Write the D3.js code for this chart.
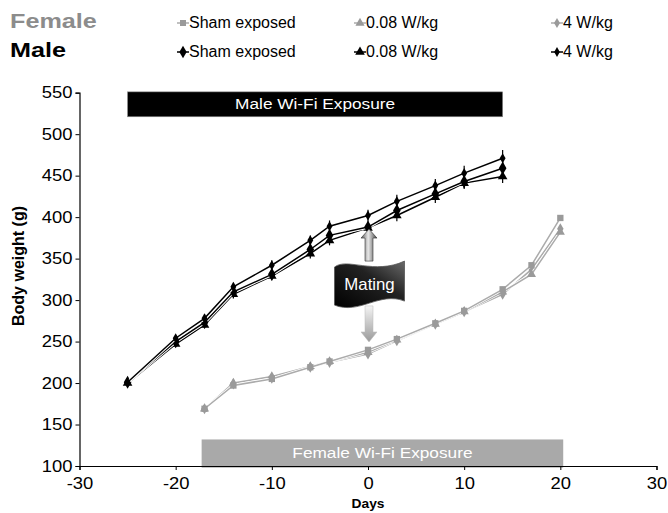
<!DOCTYPE html>
<html><head><meta charset="utf-8">
<script src="https://cdn.jsdelivr.net/npm/d3@7"></script>
<style>body{margin:0;background:#fff}svg{display:block;font-family:"Liberation Sans",Arial,Helvetica,sans-serif}</style>
</head><body><svg id="c" width="668" height="513"></svg>
<script>
// ---- data ----
const xTicks = [-30, -20, -10, 0, 10, 20, 30];
const yTicks = [100, 150, 200, 250, 300, 350, 400, 450, 500, 550];
const maleDays = [-25, -20, -17, -14, -10, -6, -4, 0, 3, 7, 10, 14];
const maleSham = [201, 250, 273, 310, 331, 361, 378, 388, 408, 428, 443, 459];
const male008  = [200, 247, 270, 307, 329, 356, 372, 387, 402, 424, 441, 449];
const male4    = [201, 254, 278, 316, 342, 372, 389, 402, 419, 438, 453, 471];
const maleShamErr = [3, 4, 4, 5, 5, 6, 6, 7, 7, 7, 8, 8];
const male008Err  = [3, 4, 4, 5, 5, 6, 6, 6, 7, 7, 7, 8];
const male4Err    = [3, 4, 5, 5, 6, 6, 7, 7, 8, 8, 9, 10];
const femaleDays = [-17, -14, -10, -6, -4, 0, 3, 7, 10, 14, 17, 20];
const femaleSham = [169, 197, 205, 219, 226, 240, 253, 272, 287, 313, 342, 399];
const female008  = [169, 200, 208, 220, 226, 237, 252, 271, 286, 310, 331, 382];
const female4    = [169, 199, 206, 219, 225, 235, 251, 271, 286, 307, 337, 386];
const groupLabels = ["Female", "Male"];
const seriesLabels = ["Sham exposed", "0.08 W/kg", "4 W/kg"];
const maleExposure = [-25, 14];
const femaleExposure = [-17.3, 20.3];
const maleExposureLabel = "Male Wi-Fi Exposure";
const femaleExposureLabel = "Female Wi-Fi Exposure";
const matingLabel = "Mating";
const xTitle = "Days";
const yTitle = "Body weight (g)";

// ---- setup ----
const svg = d3.select('#c');
const x = d3.scaleLinear().domain([-30, 30]).range([79.5, 656.5]);
const y = d3.scaleLinear().domain([100, 550]).range([466, 92.7]);
const SX = 1.15;
const FGRAY = '#9a9a9a', FLINE = '#ababab';

function stext(str, px, py, o) {
  return svg.append('text')
    .attr('transform', `translate(${px},${py}) scale(${o.sx || SX},1)`)
    .attr('text-anchor', o.anchor || 'start')
    .style('font-size', o.size + 'px')
    .style('font-weight', o.weight || 'normal')
    .attr('fill', o.fill || '#000')
    .text(str);
}

const defs = svg.append('defs');
const g1 = defs.append('linearGradient').attr('id', 'flagG').attr('x1', 0).attr('y1', 1).attr('x2', 1).attr('y2', 0);
g1.append('stop').attr('offset', '0%').attr('stop-color', '#000');
g1.append('stop').attr('offset', '60%').attr('stop-color', '#222');
g1.append('stop').attr('offset', '100%').attr('stop-color', '#6a6a6a');
const g2 = defs.append('linearGradient').attr('id', 'upG').attr('x1', 0).attr('y1', 0).attr('x2', 1).attr('y2', 0);
g2.append('stop').attr('offset', '0%').attr('stop-color', '#555');
g2.append('stop').attr('offset', '45%').attr('stop-color', '#e8e8e8');
g2.append('stop').attr('offset', '100%').attr('stop-color', '#444');
const g3 = defs.append('linearGradient').attr('id', 'downG').attr('x1', 0).attr('y1', 0).attr('x2', 0).attr('y2', 1);
g3.append('stop').attr('offset', '0%').attr('stop-color', '#f4f4f4');
g3.append('stop').attr('offset', '100%').attr('stop-color', '#9a9a9a');

// ---- exposure bars ----
svg.append('rect').attr('x', x(maleExposure[0])).attr('width', x(maleExposure[1]) - x(maleExposure[0]))
  .attr('y', y(551)).attr('height', y(521) - y(551)).attr('fill', '#000').attr('stroke', '#888').attr('stroke-width', 0.6);
stext(maleExposureLabel, (x(maleExposure[0]) + x(maleExposure[1])) / 2, y(530), {size: 15, anchor: 'middle', fill: '#fff'});
svg.append('rect').attr('x', x(femaleExposure[0])).attr('width', x(femaleExposure[1]) - x(femaleExposure[0]))
  .attr('y', y(132)).attr('height', y(98) - y(132)).attr('fill', '#a9a9a9');
stext(femaleExposureLabel, (x(femaleExposure[0]) + x(femaleExposure[1])) / 2, y(110), {size: 15, anchor: 'middle', fill: '#fff'});

// ---- series ----
const line = d3.line().x(d => x(d[0])).y(d => y(d[1]));
function drawSeries(days, vals, errs, color, halo, sym, size) {
  const pts = days.map((d, i) => [d, vals[i]]);
  svg.append('path').attr('d', line(pts)).attr('fill', 'none').attr('stroke', '#fff').attr('stroke-width', halo);
  svg.append('path').attr('d', line(pts)).attr('fill', 'none').attr('stroke', color.line).attr('stroke-width', 1.5);
  if (errs) {
    svg.append('g').selectAll('line').data(pts).join('line')
      .attr('x1', d => x(d[0])).attr('x2', d => x(d[0]))
      .attr('y1', (d, i) => y(d[1] - errs[i])).attr('y2', (d, i) => y(d[1] + errs[i]))
      .attr('stroke', color.mark).attr('stroke-width', 1.2);
  }
  svg.append('g').selectAll('path').data(pts).join('path')
    .attr('transform', d => `translate(${x(d[0])},${y(d[1])})`)
    .attr('d', d3.symbol().type(sym).size(size)).attr('fill', color.mark);
}
const F = {line: FLINE, mark: FGRAY}, M = {line: '#000', mark: '#000'};
drawSeries(femaleDays, female4, null, F, 3, d3.symbolDiamond, 36);
drawSeries(femaleDays, female008, null, F, 3, d3.symbolTriangle, 36);
drawSeries(femaleDays, femaleSham, null, F, 3, d3.symbolSquare, 40);
drawSeries(maleDays, male008, male008Err, M, 3.5, d3.symbolTriangle, 40);
drawSeries(maleDays, maleSham, maleShamErr, M, 3.5, d3.symbolDiamond, 50);
drawSeries(maleDays, male4, male4Err, M, 3.5, d3.symbolDiamond, 30);

// ---- mating annotation ----
const cx = x(0) + 1.5;
const ax = x(0) + 1;
const upTop = y(388) + 2, upBot = y(347);
svg.append('path').attr('d', `M${ax},${upTop} L${ax + 8},${upTop + 9} L${ax + 4},${upTop + 9} L${ax + 4},${upBot} L${ax - 4},${upBot} L${ax - 4},${upTop + 9} L${ax - 8},${upTop + 9} Z`)
  .attr('fill', 'url(#upG)').attr('stroke', '#333').attr('stroke-width', 0.6);
const dnTop = y(293), dnBot = y(252) + 2;
svg.append('path').attr('d', `M${ax},${dnBot} L${ax + 8},${dnBot - 10} L${ax + 4},${dnBot - 10} L${ax + 4},${dnTop} L${ax - 4},${dnTop} L${ax - 4},${dnBot - 10} L${ax - 8},${dnBot - 10} Z`)
  .attr('fill', 'url(#downG)').attr('stroke', '#bbb').attr('stroke-width', 0.5);
const fl = cx - 35, ft = y(347);
svg.append('path').attr('d', `M${fl},${ft + 6} C${fl + 12},${ft - 4} ${fl + 40},${ft + 14} ${fl + 70},${ft} L${fl + 70},${ft + 40} C${fl + 45},${ft + 30} ${fl + 25},${ft + 54} ${fl},${ft + 44} Z`)
  .attr('fill', 'url(#flagG)').attr('stroke', '#555').attr('stroke-width', 0.8);
stext(matingLabel, cx, ft + 29, {size: 16, anchor: 'middle', fill: '#fff', sx: 1.05});

// ---- axes ----
const fmt = d => String(d);
const ya = svg.append('g').attr('transform', `translate(${x(-30)},0)`)
  .call(d3.axisLeft(y).tickValues(yTicks).tickSize(4).tickPadding(3).tickFormat(fmt));
const xa = svg.append('g').attr('transform', `translate(0,${y(100)})`)
  .call(d3.axisBottom(x).tickValues(xTicks).tickSize(4).tickPadding(8).tickFormat(fmt));
[ya, xa].forEach(a => {
  a.select('.domain').attr('stroke', '#000').attr('stroke-width', 1.2);
  a.selectAll('.tick line').attr('stroke', '#000').attr('stroke-width', 1);
  a.selectAll('.tick text').style('font-size', '16px').style('font-family', '"Liberation Sans",Arial,sans-serif').attr('fill', '#000');
});
ya.selectAll('.tick text').attr('x', -7 / SX).attr('transform', `scale(${SX},1)`);
xa.selectAll('.tick text').attr('transform', `scale(${SX},1)`);
stext(xTitle, x(0), 508, {size: 12, weight: 'bold', anchor: 'middle'});
svg.append('text').attr('transform', `translate(24,266) rotate(-90)`).attr('text-anchor', 'middle')
  .style('font-size', '16px').style('font-weight', 'bold').text(yTitle);

// ---- legend ----
const rowY = [28, 57];
const itemX = [183, 360, 557];
const syms = [[d3.symbolSquare, d3.symbolTriangle, d3.symbolDiamond], [d3.symbolDiamond, d3.symbolTriangle, d3.symbolDiamond]];
const symSizes = [[36, 36, 30], [46, 40, 28]];
groupLabels.forEach((lab, r) => {
  const col = r === 0 ? '#8c8c8c' : '#000';
  stext(lab, 10, rowY[r], {size: 21, weight: 'bold', fill: col, sx: 1.2});
  seriesLabels.forEach((s, i) => {
    const mx = itemX[i], my = rowY[r] - 5;
    svg.append('line').attr('x1', mx - 6).attr('x2', mx + 6).attr('y1', my).attr('y2', my)
      .attr('stroke', r === 0 ? FLINE : '#000').attr('stroke-width', 1.5);
    svg.append('path').attr('transform', `translate(${mx},${my})`)
      .attr('d', d3.symbol().type(syms[r][i]).size(symSizes[r][i])).attr('fill', r === 0 ? FGRAY : '#000');
    stext(s, mx + 6, rowY[r], {size: 16, sx: 1.0});
  });
});
</script></body></html>
